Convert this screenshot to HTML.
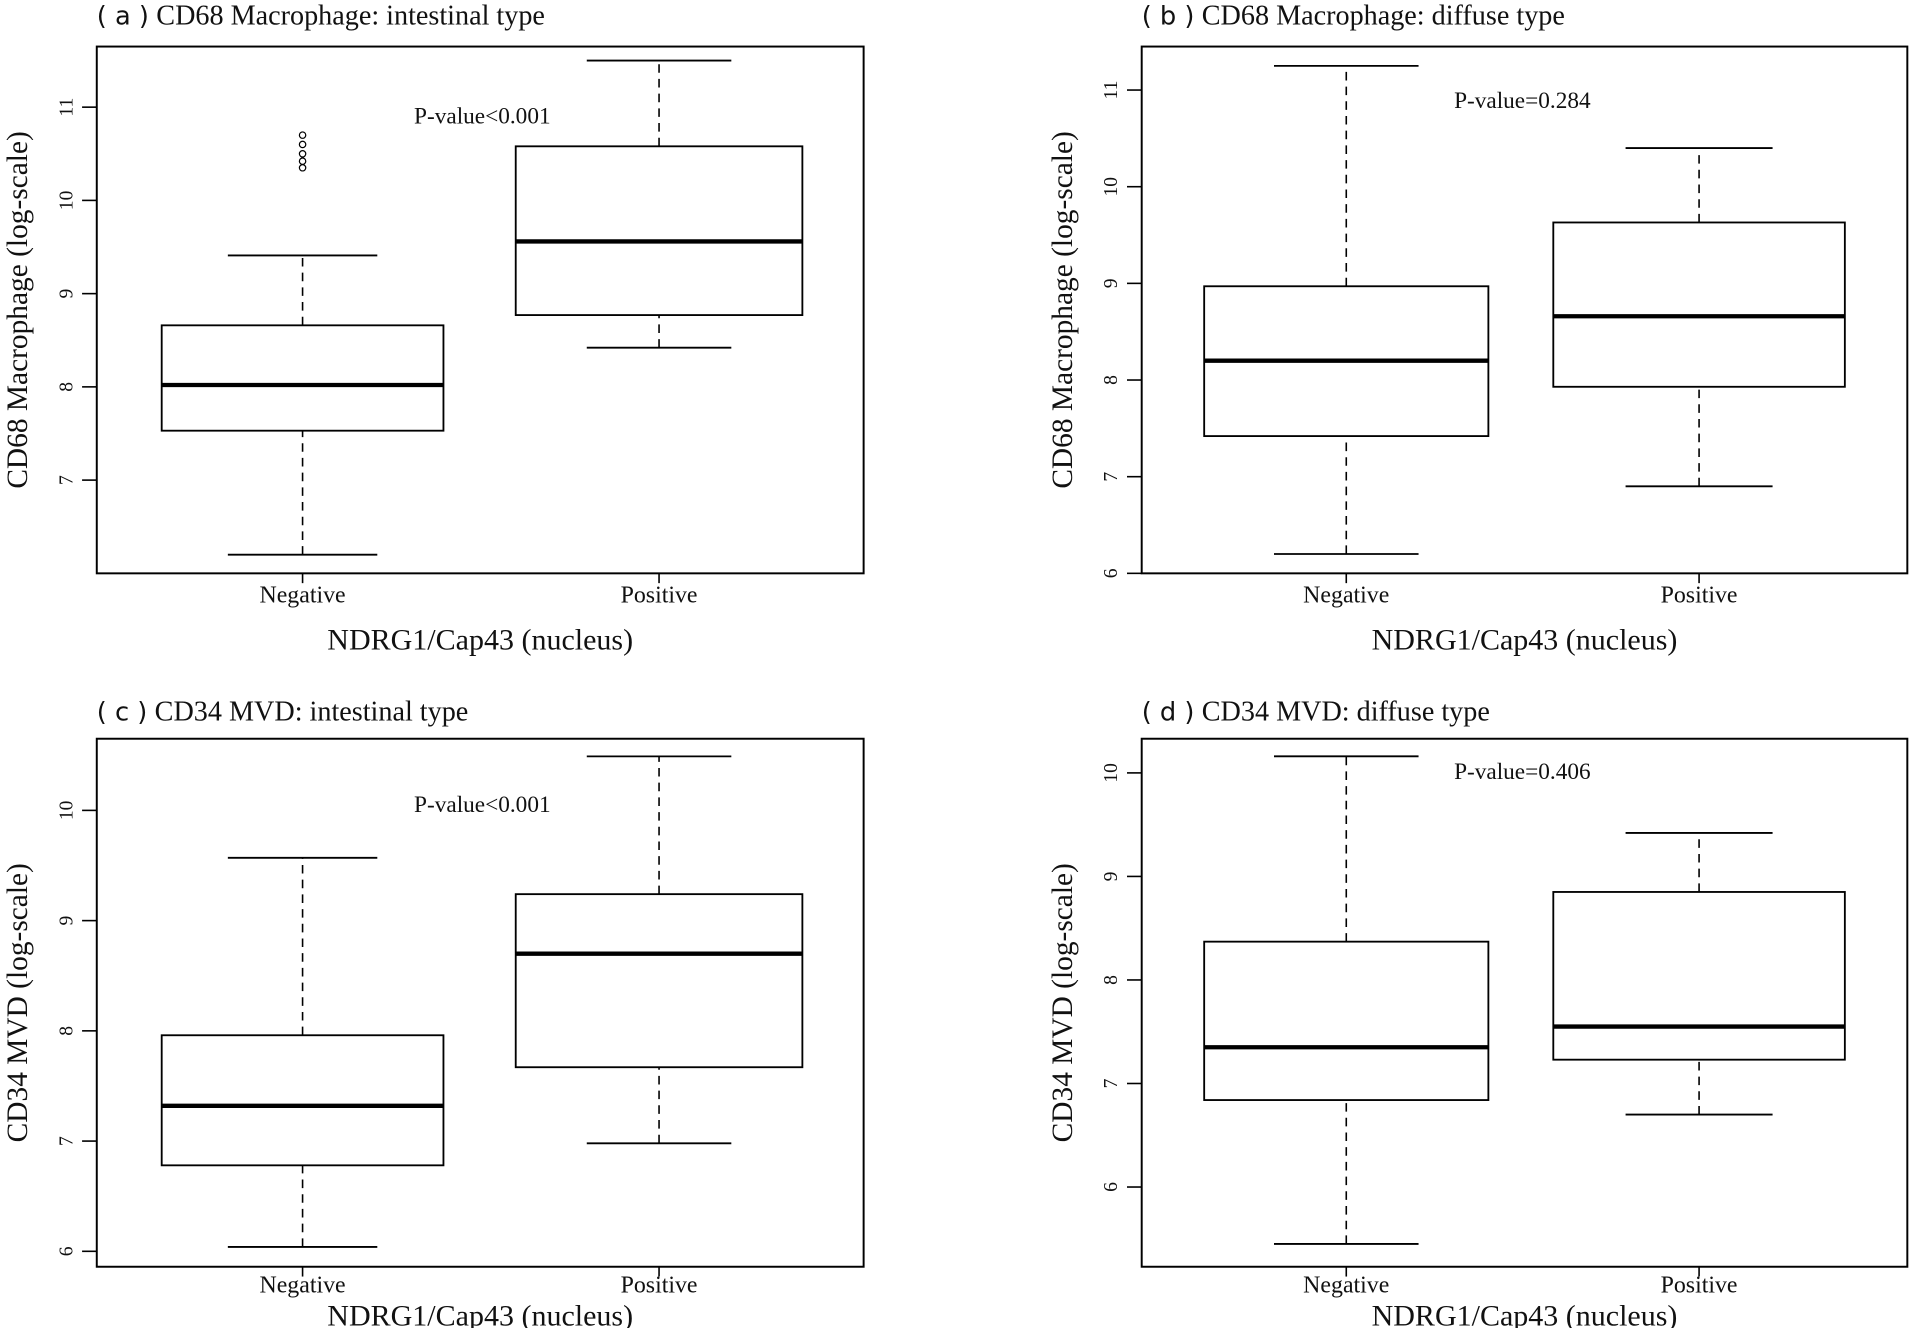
<!DOCTYPE html>
<html><head><meta charset="utf-8"><style>
html,body{margin:0;padding:0;background:#fff;}
svg{display:block;}
text{font-family:"Liberation Serif",serif;fill:#111;}
.sans{font-family:"DejaVu Sans","Liberation Sans",sans-serif;}
</style></head>
<body>
<svg id="fig" width="1911" height="1328" viewBox="0 0 1560 1084" preserveAspectRatio="none" xmlns="http://www.w3.org/2000/svg"></svg>
<script>
// Panel data: [lowerWhisker, Q1, median, Q3, upperWhisker]
const panelTitles = ["CD68 Macrophage: intestinal type","CD68 Macrophage: diffuse type","CD34 MVD: intestinal type","CD34 MVD: diffuse type"];
const panelLetters = ["a","b","c","d"];
const yTitles = ["CD68 Macrophage (log-scale)","CD68 Macrophage (log-scale)","CD34 MVD (log-scale)","CD34 MVD (log-scale)"];
const pValues = ["P-value<0.001","P-value=0.284","P-value<0.001","P-value=0.406"];
const categories = ["Negative","Positive"];
const negA = [6.2,7.53,8.02,8.66,9.41];
const posA = [8.42,8.77,9.56,10.58,11.5];
const outliersA = [10.35,10.42,10.5,10.6,10.7];
const negB = [6.2,7.42,8.2,8.97,11.25];
const posB = [6.9,7.93,8.66,9.63,10.4];
const negC = [6.04,6.78,7.32,7.96,9.57];
const posC = [6.98,7.67,8.7,9.24,10.49];
const negD = [5.45,6.84,7.35,8.37,10.16];
const posD = [6.7,7.23,7.55,8.85,9.42];
const ticksA = [7,8,9,10,11];
const ticksB = [6,7,8,9,10,11];
const ticksC = [6,7,8,9,10];
const ticksD = [6,7,8,9,10];
const domainA = [6.0,11.65];
const domainB = [6.0,11.45];
const domainC = [5.86,10.65];
const domainD = [5.23,10.33];

const NS="http://www.w3.org/2000/svg";
const svg=document.getElementById('fig');
function mk(tag,attrs,parent){const e=document.createElementNS(NS,tag);for(const k in attrs)e.setAttribute(k,attrs[k]);(parent||svg).appendChild(e);return e;}

const layouts=[
 {x0:79,x1:705,y0:38,y1:468,cx:[247,538],bw:[115,117],cap:[61,59],titleY:20,catY:492,xlY:530,pX:338,pY:101},
 {x0:932,x1:1557,y0:38,y1:468,cx:[1099,1387],bw:[116,119],cap:[59,60],titleY:20,catY:492,xlY:530,pX:1187,pY:88},
 {x0:79,x1:705,y0:603,y1:1034,cx:[247,538],bw:[115,117],cap:[61,59],titleY:588,catY:1055,xlY:1082,pX:338,pY:663},
 {x0:932,x1:1557,y0:603,y1:1034,cx:[1099,1387],bw:[116,119],cap:[59,60],titleY:588,catY:1055,xlY:1082,pX:1187,pY:636}
];
const data=[[negA,posA],[negB,posB],[negC,posC],[negD,posD]];
const ticks=[ticksA,ticksB,ticksC,ticksD];
const domains=[domainA,domainB,domainC,domainD];

layouts.forEach((L,i)=>{
  const g=mk('g',{});
  
  
  const dom=domains[i];
  const y=v=>L.y1-(v-dom[0])/(dom[1]-dom[0])*(L.y1-L.y0);
  const frame=mk('rect',{x:L.x0,y:L.y0,width:L.x1-L.x0,height:L.y1-L.y0,fill:'none',stroke:'#000','stroke-width':1.6},g);
  
  
  const t=mk('text',{x:L.x0,y:L.titleY,'font-size':23},g);
  
  
  const ts=mk('tspan',{class:'sans','font-size':21},t); ts.textContent='( '+panelLetters[i]+' )';
  const tt=mk('tspan',{dx:6},t); tt.textContent=panelTitles[i];
  ticks[i].forEach(v=>{
    const ty=y(v);
    const tl=mk('line',{x1:L.x0-12,x2:L.x0,y1:ty,y2:ty,stroke:'#000','stroke-width':1.3},g);
    
    
    const lab=mk('text',{x:0,y:0,'font-size':16,'text-anchor':'middle',transform:`translate(${L.x0-20},${ty}) rotate(-90)`},g);
    
    
    lab.textContent=v;
  });
  const yt=mk('text',{x:0,y:0,'font-size':24,'text-anchor':'middle',transform:`translate(${L.x0-57},${(L.y0+L.y1)/2}) rotate(-90)`},g);
  
  
  yt.textContent=yTitles[i];
  const xt=mk('text',{x:(L.x0+L.x1)/2,y:L.xlY,'font-size':24.5,'text-anchor':'middle'},g);
  
  
  xt.textContent='NDRG1/Cap43 (nucleus)';
  const pv=mk('text',{x:L.pX,y:L.pY,'font-size':19},g);
  
  
  pv.textContent=pValues[i];
  data[i].forEach((d,j)=>{
    const cx=L.cx[j],hw=L.bw[j],cw=L.cap[j];
    const xtk=mk('line',{x1:cx,x2:cx,y1:L.y1,y2:L.y1+8,stroke:'#000','stroke-width':1.3},g);
    
    
    const cl=mk('text',{x:cx,y:L.catY,'font-size':19.5,'text-anchor':'middle'},g);
    
    
    cl.textContent=categories[j];
    const bg=mk('g',{},g);
    
    
    mk('line',{x1:cx,x2:cx,y1:y(d[0]),y2:y(d[1]),stroke:'#000','stroke-width':1.3,'stroke-dasharray':'7,5'},bg);
    mk('line',{x1:cx,x2:cx,y1:y(d[3]),y2:y(d[4]),stroke:'#000','stroke-width':1.3,'stroke-dasharray':'7,5'},bg);
    mk('line',{x1:cx-cw,x2:cx+cw,y1:y(d[0]),y2:y(d[0]),stroke:'#000','stroke-width':1.5},bg);
    mk('line',{x1:cx-cw,x2:cx+cw,y1:y(d[4]),y2:y(d[4]),stroke:'#000','stroke-width':1.5},bg);
    mk('rect',{x:cx-hw,y:y(d[3]),width:2*hw,height:y(d[1])-y(d[3]),fill:'none',stroke:'#000','stroke-width':1.5},bg);
    mk('line',{x1:cx-hw,x2:cx+hw,y1:y(d[2]),y2:y(d[2]),stroke:'#000','stroke-width':3.5},bg);
  });
  if(i===0){
    outliersA.forEach(v=>{
      const c=mk('circle',{cx:L.cx[0],cy:y(v),r:2.6,fill:'none',stroke:'#000','stroke-width':1},g);
      
      
    });
  }
});
</script>
</body></html>
